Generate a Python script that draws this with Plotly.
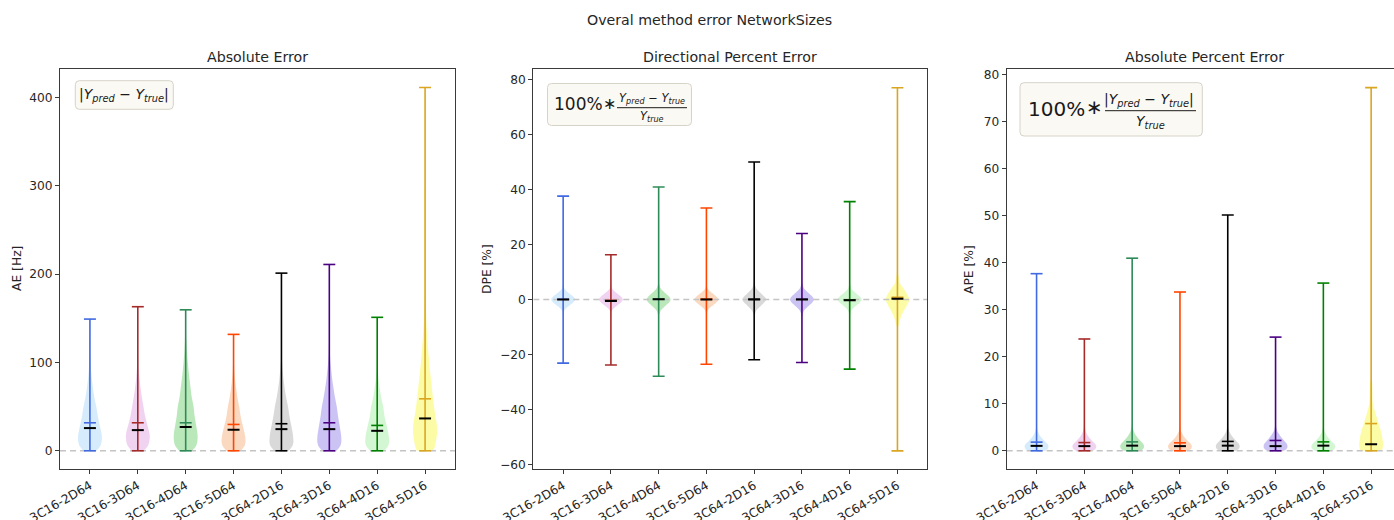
import plotly.graph_objects as go

W, H = 1394, 520

CATEGORIES = ["3C16-2D64", "3C16-3D64", "3C16-4D64", "3C16-5D64",
              "3C64-2D16", "3C64-3D16", "3C64-4D16", "3C64-5D16"]
POSITIONS = [1, 2, 3, 4, 5, 6, 7, 8]
LINE_COLORS = ["#4169E1", "#A52A2A", "#2E8B57", "#FF4500",
               "#000000", "#4B0082", "#008000", "#DAA520"]
FILL_COLORS = ["rgba(118,190,245,0.3)", "rgba(205,110,205,0.3)", "rgba(30,180,30,0.3)",
               "rgba(242,130,45,0.3)", "rgba(130,130,130,0.3)", "rgba(80,55,215,0.3)",
               "rgba(110,225,110,0.3)", "rgba(250,245,0,0.35)"]

# ---- Absolute Error ----
AE_MIN = [0, 0, 0, 0, 0, 0, 0, 0]
AE_MAX = [149, 163, 159.5, 131.7, 201, 210.8, 151, 411]
AE_MEAN = [31.7, 31.7, 31.7, 29.8, 30.6, 31.7, 28.7, 58.8]
AE_MEDIAN = [25.7, 23.4, 26.9, 23.8, 24.5, 24.5, 22.6, 36.6]
AE_LEVELS = [0, 5, 10, 15, 20, 30, 40, 50, 60, 70, 80, 90, 100, 110, 125, 150, 200, 300]
AE_WIDTHS = [
    [0.55, 0.85, 0.97, 1.0, 0.96, 0.8, 0.65, 0.53, 0.38, 0.26, 0.17, 0.1, 0.06, 0.03, 0.015, 0, 0, 0],
    [0.5, 0.82, 0.95, 1.0, 0.97, 0.78, 0.6, 0.47, 0.35, 0.24, 0.15, 0.09, 0.05, 0.03, 0.015, 0, 0, 0],
    [0.55, 0.85, 0.97, 1.0, 0.98, 0.86, 0.74, 0.66, 0.52, 0.42, 0.33, 0.25, 0.18, 0.12, 0.06, 0, 0, 0],
    [0.6, 0.9, 1.0, 0.98, 0.92, 0.74, 0.58, 0.47, 0.33, 0.22, 0.13, 0.07, 0.04, 0.02, 0.01, 0, 0, 0],
    [0.6, 0.9, 1.0, 0.98, 0.94, 0.8, 0.66, 0.55, 0.4, 0.28, 0.18, 0.11, 0.06, 0.03, 0.015, 0, 0, 0],
    [0.6, 0.9, 1.0, 1.0, 0.96, 0.84, 0.72, 0.62, 0.48, 0.36, 0.25, 0.17, 0.1, 0.05, 0.02, 0, 0, 0],
    [0.6, 0.9, 1.0, 0.98, 0.92, 0.76, 0.6, 0.5, 0.34, 0.22, 0.12, 0.06, 0.03, 0.015, 0.01, 0, 0, 0],
    [0.7, 0.82, 0.9, 0.96, 1.0, 0.98, 0.86, 0.75, 0.66, 0.58, 0.5, 0.42, 0.35, 0.28, 0.2, 0.1, 0.04, 0.01],
]

# ---- Directional Percent Error ----
DPE_MIN = [-23.1, -23.8, -27.9, -23.5, -21.9, -22.9, -25.3, -55.0]
DPE_MAX = [37.6, 16.3, 40.9, 33.3, 50.0, 24.0, 35.6, 77.0]
DPE_MEAN = [0.1, -0.3, 0.2, 0.2, 0.1, 0.1, -0.1, 0.8]
DPE_MEDIAN = [0.0, -0.5, 0.1, 0.0, 0.0, 0.0, -0.3, 0.3]
DPE_LEVELS = [-10, -6, -4, -3, -2, -1, 0, 1, 2, 3, 4, 6, 10]
DPE_WIDTHS = [
    [0, 0.01, 0.1, 0.3, 0.58, 0.85, 1.0, 0.85, 0.58, 0.3, 0.1, 0.01, 0],
    [0, 0.01, 0.1, 0.3, 0.58, 0.85, 1.0, 0.85, 0.58, 0.3, 0.1, 0.01, 0],
    [0, 0.03, 0.18, 0.4, 0.64, 0.88, 1.0, 0.88, 0.64, 0.4, 0.18, 0.03, 0],
    [0, 0.01, 0.1, 0.3, 0.58, 0.85, 1.0, 0.85, 0.58, 0.3, 0.1, 0.01, 0],
    [0, 0.03, 0.18, 0.4, 0.62, 0.86, 1.0, 0.86, 0.62, 0.4, 0.18, 0.03, 0],
    [0, 0.03, 0.18, 0.4, 0.64, 0.88, 1.0, 0.88, 0.64, 0.4, 0.18, 0.03, 0],
    [0, 0.02, 0.14, 0.34, 0.6, 0.86, 1.0, 0.86, 0.6, 0.34, 0.14, 0.02, 0],
    [0.05, 0.32, 0.55, 0.68, 0.8, 0.92, 1.0, 0.92, 0.8, 0.66, 0.52, 0.2, 0.02],
]

# ---- Absolute Percent Error ----
APE_MIN = [0, 0, 0, 0, 0, 0, 0, 0]
APE_MAX = [37.7, 23.8, 41.0, 33.8, 50.2, 24.2, 35.7, 77.3]
APE_MEAN = [1.85, 1.75, 1.9, 1.7, 2.0, 2.2, 1.9, 5.8]
APE_MEDIAN = [1.05, 1.0, 1.1, 1.0, 1.1, 1.0, 1.1, 1.4]
APE_LEVELS = [0, 0.5, 1, 1.5, 2, 3, 4, 5, 6, 8, 10, 15]
APE_WIDTHS = [
    [0.75, 0.95, 1.0, 0.9, 0.7, 0.35, 0.12, 0.04, 0.02, 0.01, 0, 0],
    [0.7, 0.95, 1.0, 0.9, 0.7, 0.36, 0.13, 0.05, 0.02, 0.01, 0, 0],
    [0.7, 0.95, 1.0, 0.92, 0.74, 0.4, 0.16, 0.06, 0.02, 0.01, 0, 0],
    [0.7, 0.95, 1.0, 0.9, 0.7, 0.35, 0.12, 0.04, 0.02, 0.01, 0, 0],
    [0.7, 0.95, 1.0, 0.92, 0.74, 0.4, 0.15, 0.05, 0.02, 0.01, 0, 0],
    [0.7, 0.95, 1.0, 0.94, 0.78, 0.45, 0.18, 0.06, 0.02, 0.01, 0, 0],
    [0.7, 0.95, 1.0, 0.9, 0.7, 0.35, 0.12, 0.04, 0.02, 0.01, 0, 0],
    [0.9, 0.95, 1.0, 1.0, 0.98, 0.92, 0.84, 0.72, 0.6, 0.36, 0.16, 0.04],
]

Y_TICKS = [[0, 100, 200, 300, 400], [-60, -40, -20, 0, 20, 40, 60, 80], [0, 10, 20, 30, 40, 50, 60, 70, 80]]
Y_RANGES = [[-20.6, 431.6], [-61.6, 83.7], [-3.87, 81.2]]
X_RANGES = [[0.375, 8.625], [0.375, 8.625], [0.375, 8.478]]
PANEL_TITLES = ["Absolute Error", "Directional Percent Error", "Absolute Percent Error"]
Y_TITLES = ["AE [Hz]", "DPE [%]", "APE [%]"]
SUPTITLE = "Overal method error NetworkSizes"

# layout geometry (pixels)
PANEL_X = [(60, 455), (533.3, 927.3), (1006.7, 1394)]
PANEL_Y = (69.3, 469)
HALF_WIDTH = 0.25
BAR_HALF = 0.125


def fx(x):
    return x / W


def fy(y):
    return 1 - y / H


FONT = "DejaVu Sans"
TXT = "#262626"
fig = go.Figure()

panels = [
    (AE_MIN, AE_MAX, AE_MEAN, AE_MEDIAN, AE_LEVELS, AE_WIDTHS),
    (DPE_MIN, DPE_MAX, DPE_MEAN, DPE_MEDIAN, DPE_LEVELS, DPE_WIDTHS),
    (APE_MIN, APE_MAX, APE_MEAN, APE_MEDIAN, APE_LEVELS, APE_WIDTHS),
]

for p, (mins, maxs, means, medians, levels, widths) in enumerate(panels):
    xa = "x" if p == 0 else f"x{p + 1}"
    ya = "y" if p == 0 else f"y{p + 1}"
    # violin bodies
    for i, pos in enumerate(POSITIONS):
        ys = [lv for lv in levels if mins[i] <= lv <= maxs[i]]
        ws = [widths[i][k] for k, lv in enumerate(levels) if mins[i] <= lv <= maxs[i]]
        xs_l = [pos - HALF_WIDTH * w for w in ws]
        xs_r = [pos + HALF_WIDTH * w for w in ws]
        fig.add_trace(go.Scatter(
            x=xs_l + xs_r[::-1], y=ys + ys[::-1], xaxis=xa, yaxis=ya,
            mode="lines", fill="toself", fillcolor=FILL_COLORS[i],
            line=dict(width=0, shape="spline", smoothing=0.8), hoverinfo="skip", showlegend=False))
    # dashed zero line
    fig.add_trace(go.Scatter(
        x=X_RANGES[p], y=[0, 0], xaxis=xa, yaxis=ya, mode="lines",
        line=dict(color="#c4c4c4", width=1.4, dash="6px,4px"), hoverinfo="skip", showlegend=False))
    # whiskers, caps, means
    for i, pos in enumerate(POSITIONS):
        lx = [pos, pos, None,
              pos - BAR_HALF, pos + BAR_HALF, None,
              pos - BAR_HALF, pos + BAR_HALF, None,
              pos - BAR_HALF, pos + BAR_HALF]
        ly = [mins[i], maxs[i], None,
              mins[i], mins[i], None,
              maxs[i], maxs[i], None,
              means[i], means[i]]
        fig.add_trace(go.Scatter(
            x=lx, y=ly, xaxis=xa, yaxis=ya, mode="lines",
            line=dict(color=LINE_COLORS[i], width=1.6), hoverinfo="skip", showlegend=False))
        fig.add_trace(go.Scatter(
            x=[pos - BAR_HALF, pos + BAR_HALF], y=[medians[i], medians[i]], xaxis=xa, yaxis=ya,
            mode="lines", line=dict(color="#000000", width=2.0), hoverinfo="skip", showlegend=False))

axis_common = dict(showgrid=False, zeroline=False, showline=True, linecolor="#3a3a3a", linewidth=1,
                   ticks="outside", ticklen=4, tickwidth=1, tickcolor="#3a3a3a", automargin=False)
layout = {}
for p in range(3):
    sx = "" if p == 0 else str(p + 1)
    x0, x1 = PANEL_X[p]
    layout[f"xaxis{sx}"] = dict(axis_common, domain=[fx(x0), fx(x1)], range=X_RANGES[p],
                                tickvals=POSITIONS, ticktext=CATEGORIES, tickangle=-30,
                                tickfont=dict(family=FONT, size=12.3, color=TXT),
                                anchor=f"y{sx}", mirror=True)
    layout[f"yaxis{sx}"] = dict(axis_common, domain=[fy(PANEL_Y[1]), fy(PANEL_Y[0])], range=Y_RANGES[p],
                                tickvals=Y_TICKS[p], tickfont=dict(family=FONT, size=12.2, color=TXT),
                                anchor=f"x{sx}", mirror=(p < 2))

annotations = []
annotations.append(dict(text=SUPTITLE, x=fx(709), y=fy(20), xref="paper", yref="paper",
                        showarrow=False, xanchor="center", yanchor="middle",
                        font=dict(family=FONT, size=14.2, color=TXT)))
TITLE_X = [257.5, 730.3, 1204]
for p in range(3):
    annotations.append(dict(text=PANEL_TITLES[p], x=fx(TITLE_X[p]), y=fy(57), xref="paper", yref="paper",
                            showarrow=False, xanchor="center", yanchor="middle",
                            font=dict(family=FONT, size=14.2, color=TXT)))
YT_X = [17, 487, 969]
for p in range(3):
    annotations.append(dict(text=Y_TITLES[p], x=fx(YT_X[p]), y=fy(269), xref="paper", yref="paper",
                            showarrow=False, xanchor="center", yanchor="middle", textangle=-90,
                            font=dict(family=FONT, size=12.3, color=TXT)))

Y_PRED = "<i>Y</i><sub><i>pred</i></sub>"
Y_TRUE = "<i>Y</i><sub><i>true</i></sub>"


def txt(s, x, y, size, anchor="center"):
    annotations.append(dict(text=s, x=fx(x), y=fy(y), xref="paper", yref="paper", showarrow=False,
                            xanchor=anchor, yanchor="middle", font=dict(family=FONT, size=size, color="#1a1a1a")))


shapes = []


def rbox(x0, y0, x1, y1, r=4):
    path = (f"M {fx(x0 + r)},{fy(y0)} L {fx(x1 - r)},{fy(y0)} Q {fx(x1)},{fy(y0)} {fx(x1)},{fy(y0 + r)} "
            f"L {fx(x1)},{fy(y1 - r)} Q {fx(x1)},{fy(y1)} {fx(x1 - r)},{fy(y1)} "
            f"L {fx(x0 + r)},{fy(y1)} Q {fx(x0)},{fy(y1)} {fx(x0)},{fy(y1 - r)} "
            f"L {fx(x0)},{fy(y0 + r)} Q {fx(x0)},{fy(y0)} {fx(x0 + r)},{fy(y0)} Z")
    shapes.append(dict(type="path", path=path, xref="paper", yref="paper",
                       fillcolor="#fbf9f3", line=dict(color="#d6d3c9", width=1), layer="above"))


def bar(x0, x1, y):
    shapes.append(dict(type="line", x0=fx(x0), x1=fx(x1), y0=fy(y), y1=fy(y), xref="paper", yref="paper",
                       line=dict(color="#1a1a1a", width=1), layer="above"))


# box 1
rbox(75.3, 80.7, 173.3, 109.3)
txt("|" + Y_PRED + " − " + Y_TRUE + "|", 124.3, 95, 14)
# box 2
rbox(547.5, 83.5, 691.5, 125.5)
txt("100%", 578.3, 104.5, 17)
txt("∗", 609, 104, 16)
txt(Y_PRED + " − " + Y_TRUE, 652, 98, 11.5)
bar(617, 687, 107.7)
txt(Y_TRUE, 652, 116.5, 11.5)
# box 3
rbox(1020, 82.7, 1202.3, 136)
txt("100%", 1056.5, 108.5, 20)
txt("∗", 1094.5, 107, 20)
txt("|" + Y_PRED + " − " + Y_TRUE + "|", 1149, 100, 14)
bar(1105, 1196, 110.7)
txt(Y_TRUE, 1150, 122, 14)

fig.update_layout(width=W, height=H, margin=dict(l=0, r=0, t=0, b=0),
                  paper_bgcolor="white", plot_bgcolor="white",
                  annotations=annotations, shapes=shapes, showlegend=False, **layout)
fig.write_html("out.html", config={"displayModeBar": False},
               post_script="document.body.style.margin='0';document.body.style.padding='0';"
                           "document.body.style.overflow='hidden';")
